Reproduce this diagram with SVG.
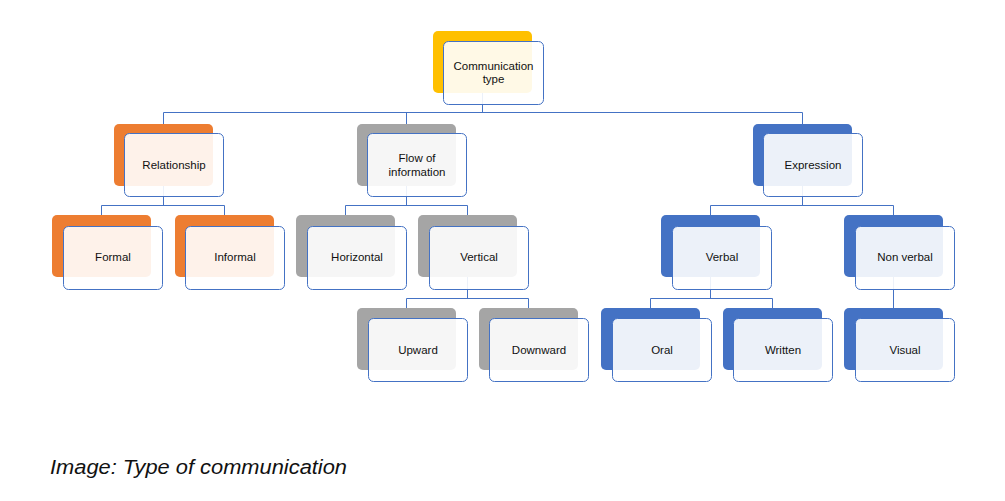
<svg xmlns="http://www.w3.org/2000/svg" width="1005" height="501" viewBox="0 0 1005 501">
<style>
.bk{stroke:none}
.gold{fill:#FFC000}.org{fill:#ED7D31}.gry{fill:#A5A5A5}.blu{fill:#4472C4}
.fr{fill:#FFFFFF;fill-opacity:0.9;stroke:#4472C4;stroke-width:1}
.t{font-family:"Liberation Sans",Arial,sans-serif;font-size:11.5px;fill:#111;text-anchor:middle;dominant-baseline:central}
.cn{fill:none;stroke:#4472C4;stroke-width:1}
.cap{font-family:"Liberation Sans",Arial,sans-serif;font-size:20.5px;font-style:italic;fill:#111}
</style>
<rect width="1005" height="501" fill="#FFFFFF"/>
<g id="connectors">
<path class="cn" d="M482.5,93V112.5M163.5,112.5H802.5M163.5,112.5V124M406.5,112.5V124M802.5,112.5V124"/>
<path class="cn" d="M163.5,186V205.5M101.5,205.5H224.5M101.5,205.5V215M224.5,205.5V215"/>
<path class="cn" d="M406.5,186V205.5M345.5,205.5H467.5M345.5,205.5V215M467.5,205.5V215"/>
<path class="cn" d="M802.5,186V205.5M710.5,205.5H893.5M710.5,205.5V215M893.5,205.5V215"/>
<path class="cn" d="M467.5,277V298.5M406.5,298.5H528.5M406.5,298.5V308M528.5,298.5V308"/>
<path class="cn" d="M710.5,277V298.5M650.5,298.5H772.5M650.5,298.5V308M772.5,298.5V308"/>
<path class="cn" d="M893.5,277V308"/>
</g>
<g id="n-communication-type">
<rect class="bk gold" x="433" y="31" width="99" height="62" rx="5"/>
<rect class="fr" x="443.5" y="41.5" width="100" height="63" rx="5"/>
<text class="t" x="493.5" y="66">Communication</text>
<text class="t" x="493.5" y="79">type</text>
</g>
<g id="n-relationship">
<rect class="bk org" x="114" y="124" width="99" height="62" rx="5"/>
<rect class="fr" x="124.5" y="133.5" width="99" height="63" rx="5"/>
<text class="t" x="174" y="165">Relationship</text>
</g>
<g id="n-flow">
<rect class="bk gry" x="357" y="124" width="99" height="62" rx="5"/>
<rect class="fr" x="367.5" y="133.5" width="99" height="63" rx="5"/>
<text class="t" x="417" y="158">Flow of</text>
<text class="t" x="417" y="171.5">information</text>
</g>
<g id="n-expression">
<rect class="bk blu" x="753" y="124" width="99" height="62" rx="5"/>
<rect class="fr" x="763.5" y="133.5" width="99" height="63" rx="5"/>
<text class="t" x="813" y="165">Expression</text>
</g>
<g id="n-formal">
<rect class="bk org" x="52" y="215" width="99" height="62" rx="5"/>
<rect class="fr" x="63.5" y="226.5" width="99" height="63" rx="5"/>
<text class="t" x="113" y="257">Formal</text>
</g>
<g id="n-informal">
<rect class="bk org" x="175" y="215" width="99" height="62" rx="5"/>
<rect class="fr" x="185.5" y="226.5" width="99" height="63" rx="5"/>
<text class="t" x="235" y="257">Informal</text>
</g>
<g id="n-horizontal">
<rect class="bk gry" x="296" y="215" width="99" height="62" rx="5"/>
<rect class="fr" x="307.5" y="226.5" width="99" height="63" rx="5"/>
<text class="t" x="357" y="257">Horizontal</text>
</g>
<g id="n-vertical">
<rect class="bk gry" x="418" y="215" width="99" height="62" rx="5"/>
<rect class="fr" x="429.5" y="226.5" width="99" height="63" rx="5"/>
<text class="t" x="479" y="257">Vertical</text>
</g>
<g id="n-verbal">
<rect class="bk blu" x="661" y="215" width="99" height="62" rx="5"/>
<rect class="fr" x="672.5" y="226.5" width="99" height="63" rx="5"/>
<text class="t" x="722" y="257">Verbal</text>
</g>
<g id="n-nonverbal">
<rect class="bk blu" x="844" y="215" width="99" height="62" rx="5"/>
<rect class="fr" x="855.5" y="226.5" width="99" height="63" rx="5"/>
<text class="t" x="905" y="257">Non verbal</text>
</g>
<g id="n-upward">
<rect class="bk gry" x="357" y="308" width="99" height="62" rx="5"/>
<rect class="fr" x="368.5" y="318.5" width="99" height="63" rx="5"/>
<text class="t" x="418" y="350">Upward</text>
</g>
<g id="n-downward">
<rect class="bk gry" x="479" y="308" width="99" height="62" rx="5"/>
<rect class="fr" x="489.5" y="318.5" width="99" height="63" rx="5"/>
<text class="t" x="539" y="350">Downward</text>
</g>
<g id="n-oral">
<rect class="bk blu" x="601" y="308" width="99" height="62" rx="5"/>
<rect class="fr" x="612.5" y="318.5" width="99" height="63" rx="5"/>
<text class="t" x="662" y="350">Oral</text>
</g>
<g id="n-written">
<rect class="bk blu" x="723" y="308" width="99" height="62" rx="5"/>
<rect class="fr" x="733.5" y="318.5" width="99" height="63" rx="5"/>
<text class="t" x="783" y="350">Written</text>
</g>
<g id="n-visual">
<rect class="bk blu" x="844" y="308" width="99" height="62" rx="5"/>
<rect class="fr" x="855.5" y="318.5" width="99" height="63" rx="5"/>
<text class="t" x="905" y="350">Visual</text>
</g>
<text class="cap" x="50" y="474" textLength="297" lengthAdjust="spacingAndGlyphs">Image: Type of communication</text>
</svg>
